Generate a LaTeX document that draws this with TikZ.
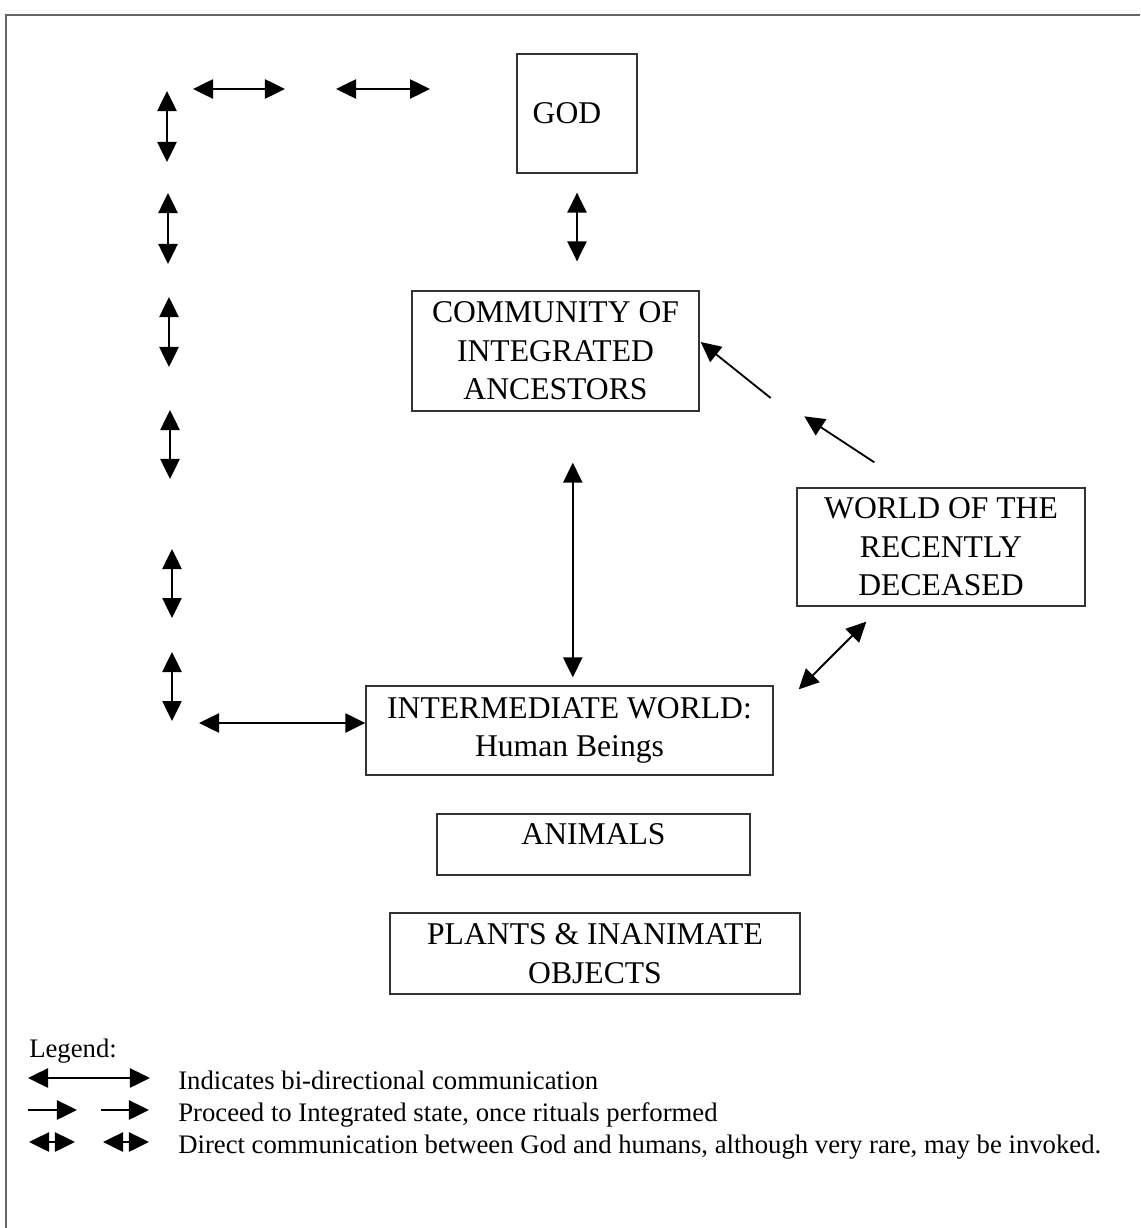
\documentclass[tikz,border=0pt]{standalone}
\usepackage{fontspec}
\setmainfont{Liberation Serif}
\usetikzlibrary{arrows.meta,calc}
\tikzset{
    block/.style = {draw=black!80, line width=0.9pt, rectangle, inner sep=0pt,
        align=center, font=\fontsize{22.5}{27.3}\selectfont},
    twoway/.style = {draw, line width=1.3pt,
        {Triangle[length=0.5cm,width=0.48cm]}-{Triangle[length=0.5cm,width=0.48cm]}},
    oneway/.style = {draw, line width=1.3pt, -{Triangle[length=0.5cm,width=0.48cm]}},
    legtext/.style = {anchor=base west, inner sep=0pt, font=\fontsize{19}{22.7}\selectfont}
}
\begin{document}
\begin{tikzpicture}[x=0.025cm, y=-0.025cm]
        \useasboundingbox (0,0) rectangle (1140,1228);
        \draw[black!60, line width=1.4pt] (6,1228) -- (6,15) -- (1140,15);

        % the worlds
        \node [block, minimum width=3cm, minimum height=2.975cm] (god) at (577,113.5) {GOD\hspace{0.5cm}};
        \node [block, minimum width=7.175cm, minimum height=3cm] (comm) at (555.5,351) {COMMUNITY OF\\INTEGRATED\\ANCESTORS};
        \node [block, minimum width=7.2cm, minimum height=2.95cm] (recent) at (941,547) {WORLD OF THE\\RECENTLY\\DECEASED};
        \node [block, minimum width=10.175cm, minimum height=2.225cm] (inter) at (569.5,730.5) {INTERMEDIATE WORLD:\\Human Beings};
        \node [block, minimum width=7.825cm, minimum height=1.525cm, text height=0.53cm, text depth=0.53cm] (animals) at (593.5,844.5) {ANIMALS};
        \node [block, minimum width=10.25cm, minimum height=2.025cm] (plants) at (595,953.5) {PLANTS \& INANIMATE\\OBJECTS};

        % communication between the worlds
        \draw [twoway, shorten <=0.475cm, shorten >=0.725cm] (god.south) -- (god.south |- comm.north);
        \draw [twoway, shorten <=1.275cm, shorten >=0.2cm] ([xshift=-3]god.south |- comm.south) -- ([xshift=-3]god.south |- inter.north);
        \draw [twoway] ([shift={(25,4)}]inter.north east) -- ([shift={(70,15)}]recent.south west);
        \draw [oneway] ([shift={(78,-25)}]recent.north west) -- ([shift={(8,-71)}]recent.north west);
        \draw [oneway] ([shift={(71,47)}]comm.east) -- ([shift={(1,-9)}]comm.east);

        % direct line to god
        \foreach \i/\x/\ya/\yb in {1/167/91/162, 2/168/193/264, 3/169/297/367, 4/170/410/479, 5/172/549/618, 6/172/652/721}{
            \coordinate (up\i) at (\x,\ya);
            \coordinate (dn\i) at (\x,\yb);
            \draw [twoway] (up\i) -- (dn\i);
        }
        \coordinate (top1) at (193,89);
        \coordinate (top2) at (285,89);
        \coordinate (top3) at (336,89);
        \coordinate (top4) at (430,89);
        \draw [twoway] (top1) -- (top2);
        \draw [twoway] (top3) -- (top4);
        \coordinate (bot1) at (199,723);
        \draw [twoway] (bot1) -- (bot1 -| inter.west);

        % legend
        \node [legtext, anchor=base west] (legend) at (29,1057) {Legend:};
        \coordinate (la1) at (28,1078);
        \coordinate (lb1) at (150,1078);
        \draw [twoway] (la1) -- (lb1);
        \coordinate (la2) at (28,1110);
        \coordinate (lb2) at (77,1110);
        \coordinate (lc2) at (101,1110);
        \coordinate (ld2) at (149,1110);
        \draw [oneway] (la2) -- (lb2);
        \draw [oneway] (lc2) -- (ld2);
        \coordinate (la3) at (29,1142);
        \coordinate (lb3) at (75,1142);
        \coordinate (lc3) at (103,1142);
        \coordinate (ld3) at (149,1142);
        \draw [twoway] (la3) -- (lb3);
        \draw [twoway] (lc3) -- (ld3);
        \node [legtext] (leg1) at (178,1089) {Indicates bi-directional communication};
        \node [legtext] (leg2) at (178,1121) {Proceed to Integrated state, once rituals performed};
        \node [legtext] (leg3) at (178,1153) {Direct communication between God and humans, although very rare, may be invoked.};
\end{tikzpicture}
\end{document}
